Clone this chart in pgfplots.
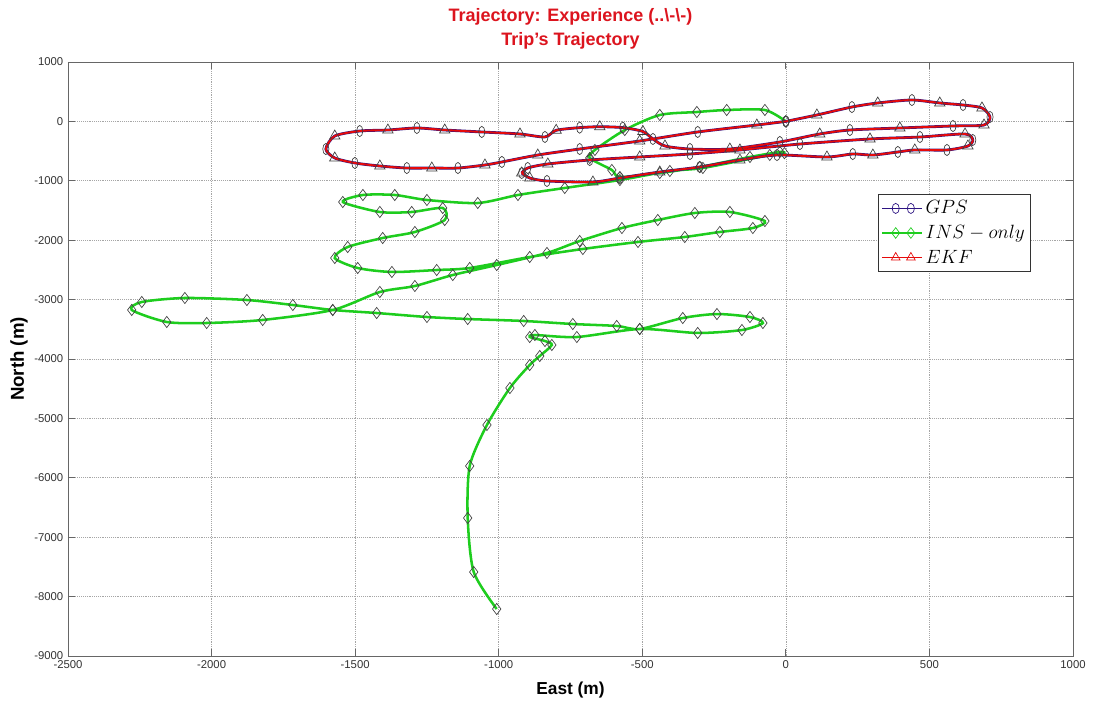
\documentclass[border=0pt]{standalone}
\usepackage{fontspec}
\setmainfont{Liberation Sans}
\usepackage{pgfplots}
\usepackage{pgfplotstable}
\pgfplotsset{compat=1.18}

\definecolor{insgreen}{RGB}{30,205,30}
\definecolor{gpsblue}{RGB}{45,20,130}
\definecolor{ekfred}{RGB}{230,10,10}
\definecolor{titred}{RGB}{220,20,30}

\pgfplotstableread{
x y
0 0
-73 192
-206 192
-310 158
-439 108
-561 -145
-665 -481
-683 -616
-606 -818
-578 -936
-439 -869
-300 -768
-125 -599
-21 -515
-5 -535
-56 -565
-289 -784
-404 -835
-578 -987
-770 -1121
-933 -1239
-1073 -1374
-1250 -1323
-1362 -1239
-1473 -1239
-1543 -1357
-1414 -1525
-1303 -1525
-1195 -1458
-1188 -1660
-1292 -1862
-1404 -1963
-1526 -2115
-1571 -2300
-1491 -2468
-1372 -2535
-1216 -2502
-1101 -2468
-892 -2283
-707 -2148
-515 -2030
-352 -1946
-230 -1862
-115 -1795
-73 -1677
-195 -1525
-317 -1542
-446 -1660
-571 -1795
-718 -2014
-832 -2215
-1007 -2418
-1160 -2586
-1292 -2771
-1414 -2872
-1578 -3175
-1822 -3343
-2017 -3394
-2156 -3377
-2278 -3175
-2243 -3040
-2093 -2973
-1877 -3007
-1717 -3091
-1578 -3175
-1425 -3226
-1250 -3293
-1108 -3327
-913 -3360
-742 -3411
-589 -3444
-509 -3495
-359 -3310
-240 -3243
-125 -3293
-80 -3394
-153 -3512
-307 -3562
-509 -3495
-728 -3630
-874 -3596
-892 -3630
-839 -3697
-815 -3764
-857 -3950
-892 -4101
-961 -4488
-1041 -5111
-1101 -5801
-1108 -6677
-1087 -7586
-1007 -8209
}\inspath

\pgfplotstableread{
x y
0 0
-101 -61
-307 -178
-509 -330
-718 -465
-864 -566
-989 -683
-1048 -734
-1142 -785
-1233 -785
-1320 -785
-1414 -751
-1501 -700
-1571 -616
-1602 -465
-1571 -246
-1484 -162
-1386 -145
-1285 -111
-1188 -145
-1059 -178
-926 -212
-839 -262
-800 -150
-718 -105
-648 -90
-568 -105
-498 -170
-463 -296
-421 -414
-334 -465
-195 -465
-21 -347
118 -212
223 -145
397 -111
582 -77
690 -61
711 74
683 226
617 276
536 310
439 360
320 310
230 242
108 108
0 0
nan nan
-920 -869
-892 -953
-832 -1003
-672 -1020
-578 -953
-439 -852
-300 -768
-160 -650
-31 -566
143 -599
233 -549
303 -566
390 -515
449 -481
561 -481
634 -414
651 -313
624 -212
467 -263
293 -296
49 -381
-160 -481
-334 -549
-509 -599
-683 -650
-829 -717
-899 -784
-920 -869
}\gpspath

\begin{document}
\begin{tikzpicture}
\path[use as bounding box] (-51pt,-39.75pt) rectangle (770.25pt,492pt);
\begin{axis}[
  scale only axis,
  width=753.75pt, height=445.5pt,
  xmin=-2500, xmax=1000, ymin=-9000, ymax=1000,
  xtick={-2500,-2000,...,1000},
  ytick={-9000,-8000,...,1000},
  unbounded coords=jump,
  /pgf/number format/assume math mode=true,
  /pgf/number format/1000 sep={},
  tick label style={font=\fontsize{8.5}{10}\selectfont, text=black!80},
  grid=major,
  major grid style={densely dotted, black!35, line width=0.5pt},
  axis line style={black!60, line width=0.7pt},
  tick style={black!60, line width=0.6pt},
  major tick length=5pt,
  tick align=inside,
  title={Trajectory: Experience (..\textbackslash-\textbackslash-)\\Trip's Trajectory},
  title style={align=center, font=\bfseries\fontsize{13.5}{18}\selectfont, text=titred, yshift=0pt},
  xlabel={East (m)},
  ylabel={North (m)},
  xlabel style={font=\bfseries\fontsize{13}{15}\selectfont, at={(axis description cs:0.5,-0.0572)}, anchor=center},
  ylabel style={font=\bfseries\fontsize{14}{16}\selectfont, at={(axis description cs:-0.0488,0.5)}, anchor=center},
  legend style={at={(0.806,0.777)}, anchor=north west, draw=black!80, line width=0.6pt, fill=white,
    font=\fontsize{14.5}{16}\selectfont, inner sep=2.5pt, row sep=3pt},
  legend cell align=left,
  legend image code/.code={
    \draw[#1, mark=none] (0cm,0cm) -- (1.05cm,0cm);
    \path[#1] plot coordinates {(0.35cm,0cm) (0.75cm,0cm)};
  },
]
% INS-only
\addplot[forget plot, insgreen, line width=1.9pt, smooth, tension=0.45,
  mark=diamond, mark size=4.2pt, mark options={solid, draw=black!75, line width=0.5pt, fill=none}]
  table {\inspath};
% GPS line
\addplot[forget plot, gpsblue, line width=2.1pt, smooth, tension=0.45, no marks] table {\gpspath};
% EKF line
\addplot[forget plot, ekfred, line width=1.4pt, smooth, tension=0.45, no marks] table {\gpspath};
% GPS markers
\addplot[forget plot, only marks, mark=o, mark repeat=2, mark phase=1, mark size=4.2pt,
  mark options={xscale=0.55, draw=black!75, line width=0.5pt}] table {\gpspath};
% EKF markers
\addplot[forget plot, only marks, mark=triangle, mark repeat=2, mark phase=2, mark size=4.5pt,
  mark options={draw=black!75, line width=0.5pt}] table {\gpspath};

\addlegendimage{gpsblue, line width=1pt, mark=o, mark size=3.8pt, mark options={xscale=0.7, line width=0.5pt}}
\addlegendentry{$GPS$}
\addlegendimage{insgreen, line width=1pt, mark=diamond, mark size=4pt, mark options={line width=0.5pt}}
\addlegendentry{$INS-only$}
\addlegendimage{ekfred, line width=1pt, mark=triangle, mark size=3.8pt, mark options={line width=0.5pt}}
\addlegendentry{$EKF$}
\end{axis}
\end{tikzpicture}
\end{document}
